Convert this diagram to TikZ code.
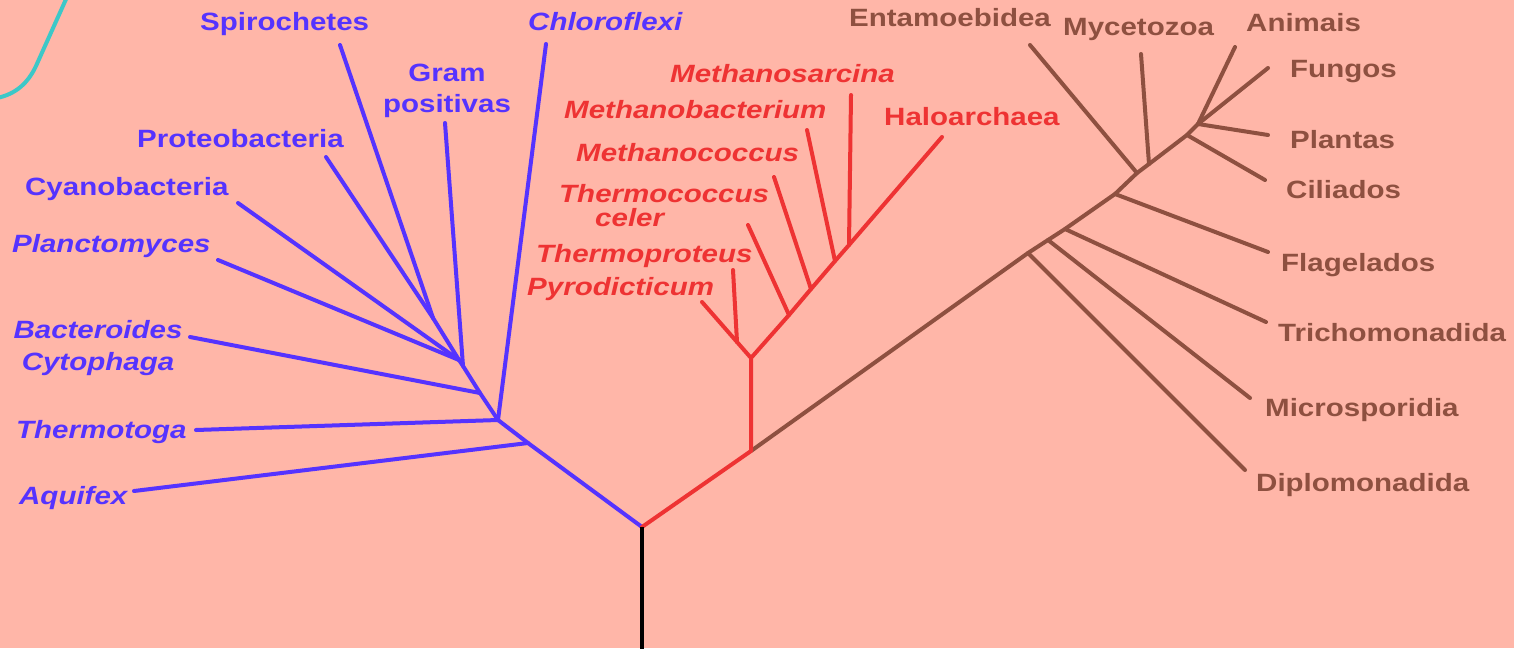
\documentclass[tikz,border=0pt]{standalone}
\usepackage{fontspec}
\setmainfont{Liberation Sans}[FakeStretch=1.18]
\definecolor{bgc}{HTML}{FFB6A8}
\definecolor{bluec}{HTML}{5533FF}
\definecolor{redc}{HTML}{EE3333}
\definecolor{brownc}{HTML}{8E5040}
\definecolor{cyanc}{HTML}{3CC8C8}
\begin{document}
\begin{tikzpicture}[x=1pt,y=-1pt,
  edge/.style={line width=4pt, line cap=round, line join=round},
  lbl/.style={font=\bfseries\fontsize{25}{28}\selectfont, inner sep=0pt, anchor=base west},
  ilbl/.style={lbl, font=\bfseries\itshape\fontsize{25}{28}\selectfont},
  clbl/.style={lbl, anchor=base},
  iclbl/.style={ilbl, anchor=base}]
\fill[bgc] (0,0) rectangle (1514,648);
\useasboundingbox (0,0) rectangle (1514,648);

% cyan curve at top left
\draw[cyanc, line width=4pt] (67,-3) -- (36,66) .. controls (28,83) and (16,94) .. (-3,98);

% ---- coordinates
\coordinate (rootb) at (642,650);
\coordinate (root) at (642,527);
% bacteria
\coordinate (B1) at (528,443);
\coordinate (B2) at (498,420);
\coordinate (B3) at (480,393);
\coordinate (B4) at (463,366);
\coordinate (B4b) at (459,360);
\coordinate (B5) at (433,318);
\coordinate (eSpi) at (340,45);
\coordinate (ePro) at (326,157);
\coordinate (eCya) at (238,203);
\coordinate (ePla) at (218,260);
\coordinate (eGra) at (445,123);
\coordinate (eBac) at (190,337);
\coordinate (eThe) at (196,430);
\coordinate (eChl) at (546,44);
\coordinate (eAqu) at (134,491);
% archaea
\coordinate (R0) at (751,451);
\coordinate (R1) at (751,358);
\coordinate (R2) at (737,342);
\coordinate (Rt) at (789,315);
\coordinate (Rc) at (811,289);
\coordinate (Rb) at (835,261);
\coordinate (Rs) at (849,245);
\coordinate (ePyr) at (702,302);
\coordinate (eTpr) at (733,270);
\coordinate (eTco) at (748,225);
\coordinate (eMco) at (774,177);
\coordinate (eMba) at (807,130);
\coordinate (eMsa) at (851,95);
\coordinate (eHal) at (942,137);
% eukarya
\coordinate (Nd) at (1028,253);
\coordinate (Nm) at (1048,240);
\coordinate (Nt) at (1065,229);
\coordinate (Nf) at (1115,194);
\coordinate (Ne) at (1137,173);
\coordinate (Ny) at (1149,164);
\coordinate (Nc) at (1187,135);
\coordinate (Na) at (1198,124);
\coordinate (eDip) at (1245,470);
\coordinate (eMic) at (1250,398);
\coordinate (eTri) at (1266,322);
\coordinate (eFla) at (1268,252);
\coordinate (eCil) at (1265,180);
\coordinate (ePlan) at (1268,135);
\coordinate (eFun) at (1268,68);
\coordinate (eAni) at (1235,47);
\coordinate (eMyc) at (1141,54);
\coordinate (eEnt) at (1030,45);

% ---- branches
\draw[edge, bluec] (root) -- (B1) -- (B2) -- (B3) -- (B4) -- (B4b) -- (B5);
\draw[edge, bluec] (eSpi) -- (B5);
\draw[edge, bluec] (ePro) -- (B5);
\draw[edge, bluec] (eCya) -- (B4b);
\draw[edge, bluec] (ePla) -- (B4b);
\draw[edge, bluec] (eGra) -- (B4);
\draw[edge, bluec] (eBac) -- (B3);
\draw[edge, bluec] (eThe) -- (B2);
\draw[edge, bluec] (eChl) -- (B2);
\draw[edge, bluec] (eAqu) -- (B1);

\draw[edge, brownc] (R0) -- (Nd) -- (Nm) -- (Nt) -- (Nf) -- (Ne) -- (Ny) -- (Nc) -- (Na);
\draw[edge, brownc] (Nd) -- (eDip);
\draw[edge, brownc] (Nm) -- (eMic);
\draw[edge, brownc] (Nt) -- (eTri);
\draw[edge, brownc] (Nf) -- (eFla);
\draw[edge, brownc] (Nc) -- (eCil);
\draw[edge, brownc] (Na) -- (ePlan);
\draw[edge, brownc] (Na) -- (eFun);
\draw[edge, brownc] (Na) -- (eAni);
\draw[edge, brownc] (Ny) -- (eMyc);
\draw[edge, brownc] (Ne) -- (eEnt);

\draw[edge, redc] (root) -- (R0) -- (R1) -- (Rt) -- (Rc) -- (Rb) -- (Rs) -- (eHal);
\draw[edge, redc] (R1) -- (R2) -- (ePyr);
\draw[edge, redc] (eTpr) -- (R2);
\draw[edge, redc] (eTco) -- (Rt);
\draw[edge, redc] (eMco) -- (Rc);
\draw[edge, redc] (eMba) -- (Rb);
\draw[edge, redc] (eMsa) -- (Rs);

\draw[line width=4pt, black] (rootb) -- (root);

% ---- labels: bacteria
\begin{scope}[bluec]
\node[lbl] (Spi) at (200,30) {Spirochetes};
\node[ilbl] (Chl) at (528,30) {Chloroflexi};
\node[clbl] (Gra1) at (447,81) {Gram};
\node[clbl] (Gra2) at (447,112) {positivas};
\node[lbl] (Pro) at (137,147) {Proteobacteria};
\node[lbl] (Cya) at (25,195) {Cyanobacteria};
\node[ilbl] (Pla) at (12,252) {Planctomyces};
\node[iclbl] (Bac1) at (98,338) {Bacteroides};
\node[iclbl] (Bac2) at (98,370) {Cytophaga};
\node[ilbl] (The) at (16,438) {Thermotoga};
\node[ilbl] (Aqu) at (19,504) {Aquifex};
\end{scope}
% ---- labels: archaea
\begin{scope}[redc]
\node[ilbl] (Msa) at (670,82) {Methanosarcina};
\node[ilbl] (Mba) at (564,118) {Methanobacterium};
\node[ilbl] (Mco) at (576,161) {Methanococcus};
\node[ilbl] (Tco1) at (559,202) {Thermococcus};
\node[ilbl] (Tco2) at (595,226) {celer};
\node[ilbl] (Tpr) at (536,262) {Thermoproteus};
\node[ilbl] (Pyr) at (527,295) {Pyrodicticum};
\node[lbl] (Hal) at (884,125) {Haloarchaea};
\end{scope}
% ---- labels: eukarya
\begin{scope}[brownc]
\node[lbl] (Ent) at (849,26) {Entamoebidea};
\node[lbl] (Myc) at (1063,35) {Mycetozoa};
\node[lbl] (Ani) at (1246,31) {Animais};
\node[lbl] (Fun) at (1290,77) {Fungos};
\node[lbl] (Plan) at (1290,148) {Plantas};
\node[lbl] (Cil) at (1286,198) {Ciliados};
\node[lbl] (Fla) at (1281,271) {Flagelados};
\node[lbl] (Tri) at (1278,341) {Trichomonadida};
\node[lbl] (Mic) at (1265,416) {Microsporidia};
\node[lbl] (Dip) at (1256,491) {Diplomonadida};
\end{scope}
\end{tikzpicture}
\end{document}
